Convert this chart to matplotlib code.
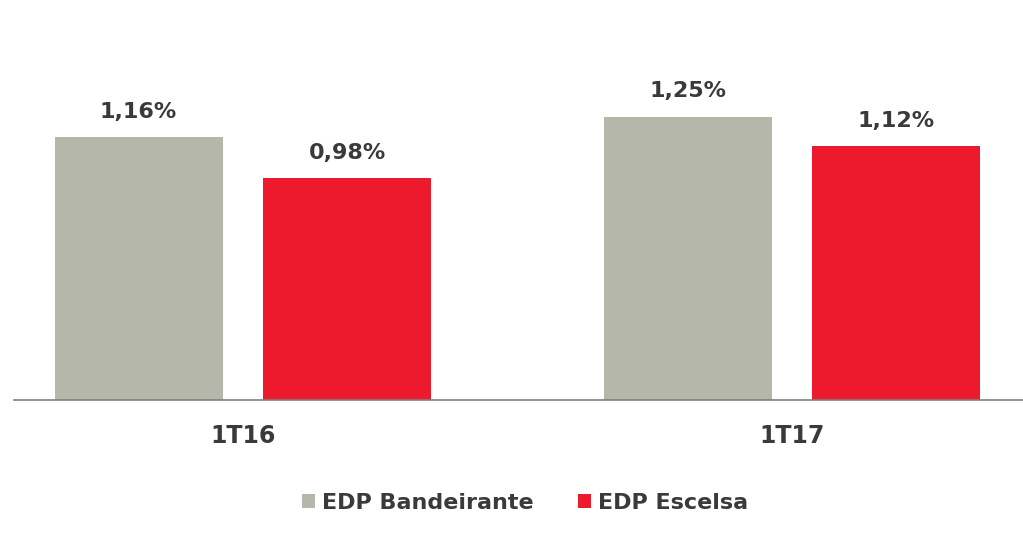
import matplotlib
matplotlib.use("Agg")
import matplotlib.pyplot as plt
import numpy as np

# data
periods = ['1T16', '1T17']
bandeirante = [1.16, 1.25]
escelsa = [0.98, 1.12]
series_names = ['EDP Bandeirante', 'EDP Escelsa']

grey = '#B5B7AA'
red = '#ED192D'
txt = '#3A3A3A'

fig = plt.figure(figsize=(10.23, 5.42), dpi=100)
ax = fig.add_axes([14/1023, 142/542, 1 - 14/1023, 400/542])

x = np.arange(len(periods))
w = 0.306
off = 0.19

b1 = ax.bar(x - off, bandeirante, w, color=grey, label=series_names[0])
b2 = ax.bar(x + off, escelsa, w, color=red, label=series_names[1])

for bars, vals in ((b1, bandeirante), (b2, escelsa)):
    for b, v in zip(bars, vals):
        ax.annotate(('%.2f%%' % v).replace('.', ','),
                    (b.get_x() + b.get_width()/2, v),
                    xytext=(0, 11), textcoords='offset points',
                    ha='center', va='bottom', fontsize=16,
                    fontweight='bold', color=txt)

ax.set_xlim(-0.417, 1.421)
ax.set_ylim(0, 1.764)
ax.set_xticks(x)
ax.set_xticklabels(periods, fontsize=17, fontweight='bold', color=txt)
ax.tick_params(axis='x', length=0, pad=17)
ax.set_yticks([])
for s in ['top', 'right', 'left']:
    ax.spines[s].set_visible(False)
ax.spines['bottom'].set_color('#808080')
ax.spines['bottom'].set_linewidth(1.2)

leg = fig.legend(loc='center', bbox_to_anchor=(0.513, 1 - 503/542), ncol=2,
                 frameon=False, handlelength=0.6, handleheight=0.6,
                 handletextpad=0.3, columnspacing=2.0,
                 prop={'size': 16, 'weight': 'bold'})
for t in leg.get_texts():
    t.set_color(txt)

fig.savefig('out.png', dpi=100)
